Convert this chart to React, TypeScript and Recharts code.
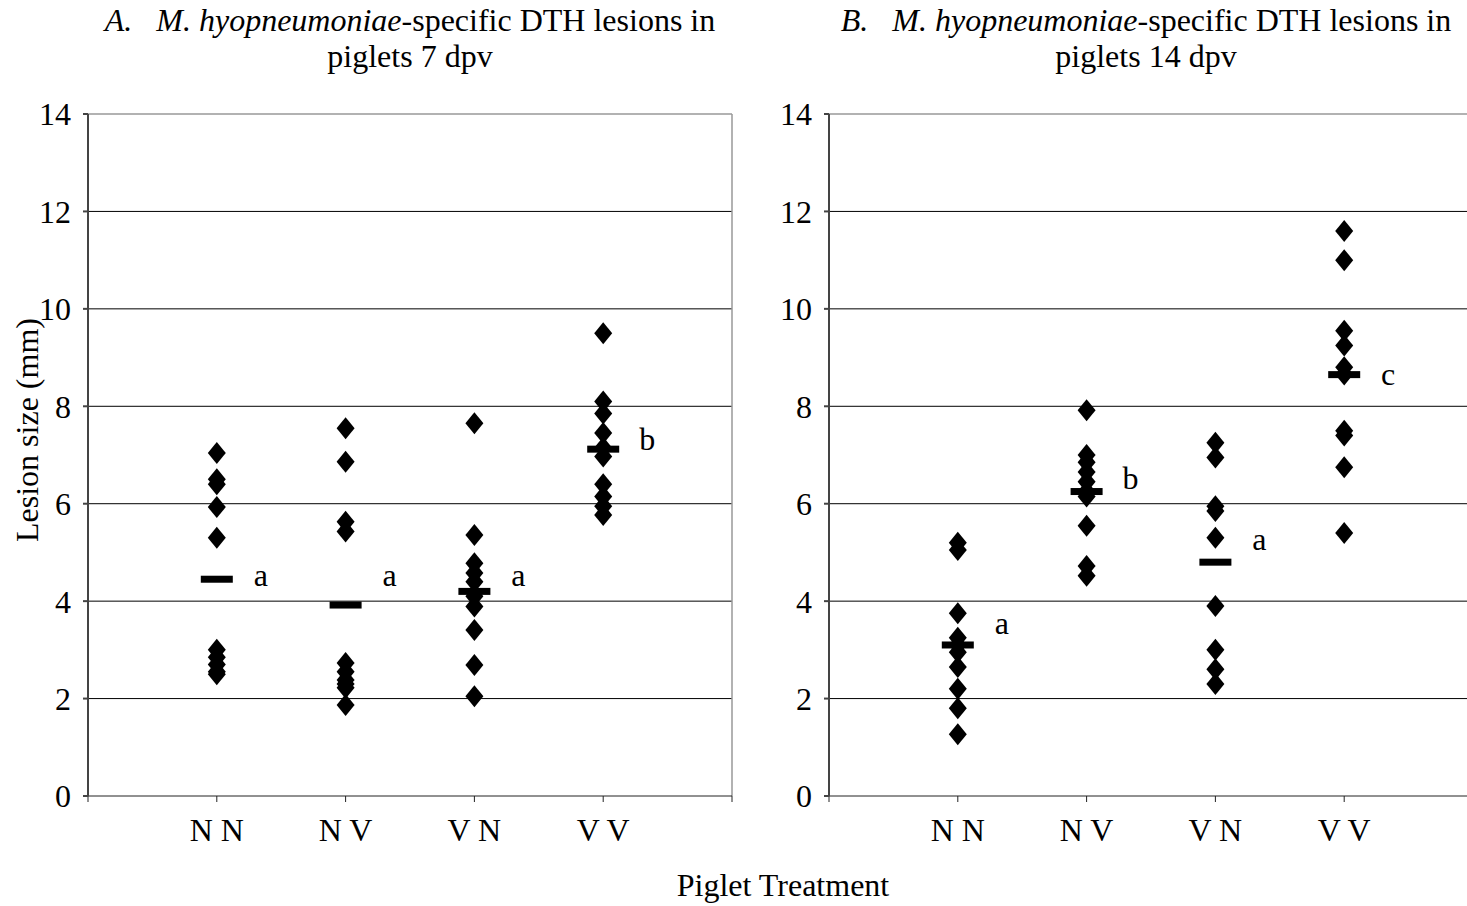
import { ScatterChart, Scatter, XAxis, YAxis, CartesianGrid, ReferenceLine } from 'recharts';

const treatments = ['N N', 'N V', 'V N', 'V V'];
const yTicks = [0, 2, 4, 6, 8, 10, 12, 14];

// lesion sizes (mm), 7 days post vaccination
const nn7 = [7.04, 6.5, 6.4, 5.93, 5.3, 3.0, 2.85, 2.7, 2.55, 2.5];
const nv7 = [7.55, 6.86, 5.63, 5.43, 2.73, 2.55, 2.38, 2.3, 2.22, 1.87];
const vn7 = [7.65, 5.36, 4.78, 4.58, 4.4, 4.1, 3.89, 3.41, 2.69, 2.05];
const vv7 = [9.5, 8.1, 7.85, 7.45, 7.15, 6.97, 6.4, 6.15, 5.95, 5.77];
const means7 = [4.45, 3.92, 4.2, 7.12];
const letters7 = ['a', 'a', 'a', 'b'];
const letterLevel7 = [4.5, 4.5, 4.5, 7.3];

// lesion sizes (mm), 14 days post vaccination
const nn14 = [5.2, 5.05, 3.75, 3.25, 3.1, 2.95, 2.65, 2.2, 1.8, 1.27];
const nv14 = [7.92, 7.0, 6.85, 6.65, 6.45, 6.25, 6.15, 5.55, 4.72, 4.52];
const vn14 = [7.25, 6.95, 5.95, 5.85, 5.3, 3.9, 3.0, 2.6, 2.3];
const vv14 = [11.6, 11.0, 9.55, 9.25, 8.8, 8.65, 7.5, 7.4, 6.75, 5.4];
const means14 = [3.1, 6.25, 4.8, 8.65];
const letters14 = ['a', 'b', 'a', 'c'];
const letterLevel14 = [3.53, 6.49, 5.24, 8.64];

const FONT = '"Liberation Serif", "Times New Roman", serif';
const FS = 32;

const Diamond = (props: any) => {
  const { cx, cy } = props;
  if (cx == null || cy == null) return null;
  return <polygon points={`${cx},${cy - 11} ${cx + 9},${cy} ${cx},${cy + 11} ${cx - 9},${cy}`} fill="#000" />;
};

const MeanBar = (props: any) => {
  const { cx, cy } = props;
  if (cx == null || cy == null) return null;
  return <rect x={cx - 16} y={cy - 3.5} width={32} height={7} fill="#000" />;
};

const Letter = (props: any) => {
  const { cx, cy, payload } = props;
  if (cx == null || cy == null) return null;
  return (
    <text x={cx + 44} y={cy} dy="0.3em" textAnchor="middle" fontFamily={FONT} fontSize={FS} fill="#000">
      {payload.letter}
    </text>
  );
};

type PanelProps = {
  left: number;
  groups: number[][];
  means: number[];
  letters: string[];
  letterLevel: number[];
};

function Panel({ left, groups, means, letters, letterLevel }: PanelProps) {
  const points = groups.flatMap((vals, i) => vals.map((y) => ({ x: i + 1, y })));
  const meanPts = means.map((y, i) => ({ x: i + 1, y }));
  const letterPts = letters.map((letter, i) => ({ x: i + 1, y: letterLevel[i], letter }));

  return (
    <div style={{ position: 'absolute', left, top: 0 }}>
      <ScatterChart width={760} height={906} margin={{ top: 114, right: 28, bottom: 50, left: 28 }}>
        <CartesianGrid horizontal vertical={false} stroke="#000" horizontalValues={[2, 4, 6, 8, 10, 12]} />
        <ReferenceLine y={14} stroke="#999" strokeWidth={1.5} />
        <ReferenceLine x={5} stroke="#999" strokeWidth={1.5} />
        <XAxis
          type="number"
          dataKey="x"
          domain={[0, 5]}
          ticks={[0, 1, 2, 3, 4, 5]}
          tickFormatter={(v: number) => treatments[v - 1] ?? ''}
          height={60}
          tickSize={6}
          tickMargin={16}
          stroke="#222"
          tick={{ fill: '#000', fontSize: FS, fontFamily: FONT }}
        />
        <YAxis
          type="number"
          dataKey="y"
          domain={[0, 14]}
          ticks={yTicks}
          width={60}
          tickSize={5}
          tickMargin={12}
          stroke="#444"
          strokeWidth={2}
          tick={{ fill: '#000', fontSize: FS, fontFamily: FONT }}
        />
        <Scatter data={points} shape={<Diamond />} isAnimationActive={false} />
        <Scatter data={meanPts} shape={<MeanBar />} isAnimationActive={false} />
        <Scatter data={letterPts} shape={<Letter />} isAnimationActive={false} />
      </ScatterChart>
    </div>
  );
}

const titleStyle = (center: number): React.CSSProperties => ({
  position: 'absolute',
  left: center - 400,
  width: 800,
  top: 2,
  textAlign: 'center',
  fontFamily: FONT,
  fontSize: FS,
  lineHeight: '36px',
  color: '#000',
});

export default function App() {
  return (
    <div
      style={{
        position: 'absolute',
        left: 0,
        top: 0,
        width: 1467,
        height: 906,
        overflow: 'hidden',
        background: '#fff',
        fontFamily: FONT,
      }}
    >
      <div style={titleStyle(410)}>
        <i>A.</i>&nbsp;&nbsp; <i>M. hyopneumoniae</i>-specific DTH lesions in
        <br />
        piglets 7 dpv
      </div>
      <div style={titleStyle(1146)}>
        <i>B.</i>&nbsp;&nbsp; <i>M. hyopneumoniae</i>-specific DTH lesions in
        <br />
        piglets 14 dpv
      </div>

      <Panel left={0} groups={[nn7, nv7, vn7, vv7]} means={means7} letters={letters7} letterLevel={letterLevel7} />
      <Panel left={741} groups={[nn14, nv14, vn14, vv14]} means={means14} letters={letters14} letterLevel={letterLevel14} />

      <div
        style={{
          position: 'absolute',
          left: 27 - 150,
          top: 430 - 18,
          width: 300,
          height: 36,
          lineHeight: '36px',
          textAlign: 'center',
          fontSize: FS,
          transform: 'rotate(-90deg)',
          color: '#000',
        }}
      >
        Lesion size (mm)
      </div>
      <div
        style={{
          position: 'absolute',
          left: 783 - 200,
          top: 885 - 18,
          width: 400,
          lineHeight: '36px',
          textAlign: 'center',
          fontSize: FS,
          color: '#000',
        }}
      >
        Piglet Treatment
      </div>
    </div>
  );
}
